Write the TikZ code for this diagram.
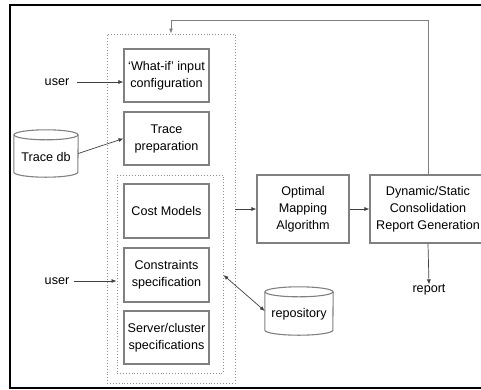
\documentclass[tikz,border=0pt]{standalone}
\usepackage{fontspec}
\setmainfont{Liberation Sans}
\usetikzlibrary{arrows.meta,calc}
\definecolor{boxgray}{HTML}{808080}
\definecolor{linegray}{HTML}{404040}
\definecolor{dotgray}{HTML}{909090}
\begin{document}
\begin{tikzpicture}[x=1pt,y=-1pt,
  every node/.style={font=\fontsize{12.6}{17}\selectfont, align=center, inner sep=0pt},
  procbox/.style={draw=boxgray, line width=1.1pt, rectangle, fill=white},
  groupbox/.style={draw=dotgray, line width=0.9pt, dotted, rectangle},
  conn/.style={draw=linegray, line width=0.7pt, -{Latex[length=5pt,width=4pt]}},
  biconn/.style={draw=linegray, line width=0.7pt, {Latex[length=5pt,width=4pt]}-{Latex[length=5pt,width=4pt]}}
]
\useasboundingbox (0,0) rectangle (481,389);
\clip (0,0) rectangle (481,389);
% outer frame
\draw[black, line width=1.8pt] (10,5) rectangle (500,388);

% containers
\node[groupbox, minimum width=128pt, minimum height=349pt] (outer) at (171,208.5) {};
\node[groupbox, minimum width=106pt, minimum height=198pt] (inner) at (170,274) {};

% boxes
\node[procbox, minimum width=85pt, minimum height=53pt] (wi) at (166.5,75.5) {‘What-if’ input\\configuration};
\node[procbox, minimum width=85pt, minimum height=53pt] (tp) at (166.5,138.5) {Trace\\preparation};
\node[procbox, minimum width=85pt, minimum height=54pt] (cm) at (166.5,211) {Cost Models};
\node[procbox, minimum width=85pt, minimum height=54pt] (cs) at (166.5,275) {Constraints\\specification};
\node[procbox, minimum width=85pt, minimum height=53pt] (sc) at (166.5,337.5) {Server/cluster\\specifications};
\node[procbox, minimum width=92pt, minimum height=68pt] (opt) at (303,209) {Optimal\\Mapping\\Algorithm};
\node[procbox, minimum width=116pt, minimum height=68pt] (dyn) at (428,209) {Dynamic/Static\\Consolidation\\Report Generation};

% cylinders
\node[minimum width=64pt, minimum height=47pt] (tdb) at (46,153.5) {};
\draw[boxgray, line width=1.1pt, fill=white]
  ($(tdb.north west)+(0,5)$) -- ($(tdb.south west)+(0,-5)$) arc[start angle=180, end angle=360, x radius=32pt, y radius=5pt]
  -- ($(tdb.north east)+(0,5)$);
\draw[boxgray, line width=1.1pt] ($(tdb.north)+(0,5)$) ellipse[x radius=32pt, y radius=5pt];
\node at ([yshift=-3pt]tdb.center) {Trace db};

\node[minimum width=68pt, minimum height=48pt] (repo) at (299,311) {};
\draw[boxgray, line width=1.1pt, fill=white]
  ($(repo.north west)+(0,5)$) -- ($(repo.south west)+(0,-5)$) arc[start angle=180, end angle=360, x radius=34pt, y radius=5pt]
  -- ($(repo.north east)+(0,5)$);
\draw[boxgray, line width=1.1pt] ($(repo.north)+(0,5)$) ellipse[x radius=34pt, y radius=5pt];
\node at ([yshift=-3pt]repo.center) {repository};

% text nodes
\node (user1) at (57,82) {user};
\node (user2) at (57,281) {user};
\node (report) at (429,290) {report};

% connectors
\draw[conn] ([xshift=8pt]user1.east) -- (user1 -| wi.west);
\draw[conn] ([xshift=5pt]user2.east) -- (user2 -| inner.west);
\draw[conn] (tdb.east) -- (tp.west);
\draw[conn] (outer.east |- opt.west) -- (opt.west);
\draw[conn] (opt.east) -- (dyn.west);
\draw[conn] (dyn.south) -- (report.north);
\draw[biconn] (inner.east |- cs.east) -- (repo.west);
\coordinate (fbtop) at (171,20);
\draw[conn, draw=boxgray] (dyn.north) |- (fbtop) -- (outer.north);
\end{tikzpicture}
\end{document}
